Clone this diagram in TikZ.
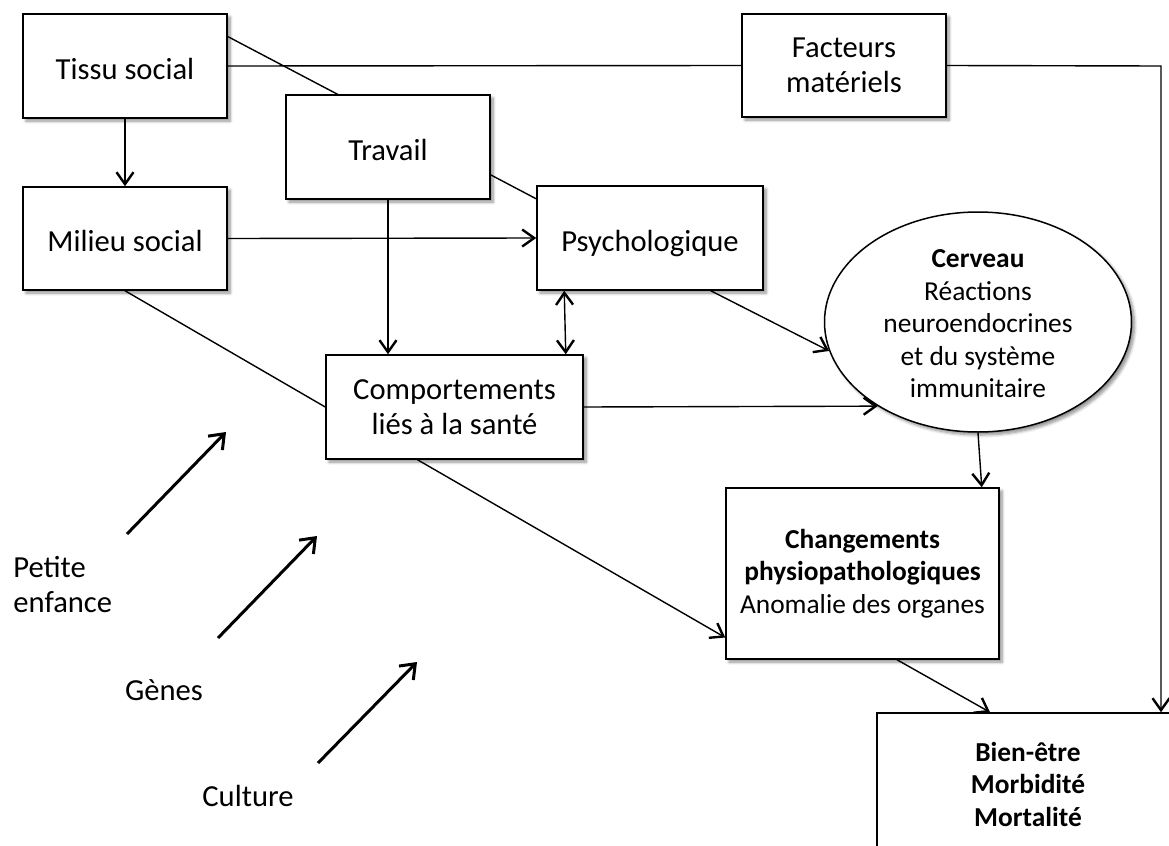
\documentclass[tikz,border=0pt]{standalone}
\usepackage{fontspec}
\setmainfont{Carlito}
\usetikzlibrary{arrows.meta,shapes.geometric,shadows.blur,calc,backgrounds}
\newcommand\mainsz{\fontsize{15.3}{17.5}\selectfont}
\newcommand\smallsz{\fontsize{13.7}{16.25}\selectfont}
\tikzset{
  shad/.style={blur shadow={shadow xshift=1.5pt, shadow yshift=-1.5pt, shadow blur radius=1.5pt, shadow opacity=45, shadow blur steps=6}},
  box/.style={draw, line width=0.75pt, fill=white, inner sep=2pt, align=center, font=\mainsz},
  one/.style={text height=13pt, text depth=0pt},
  conn/.style={line width=0.7pt},
  tip/.tip={Straight Barb[length=6pt,width=8.5pt,line width=1.2pt]},
  arr/.style={conn, -tip},
  dbl/.style={conn, tip-tip},
  bigarr/.style={line width=1.5pt, -{Straight Barb[length=6.5pt,width=10pt,line width=1.5pt]}},
  lbl/.style={font=\mainsz, inner sep=0pt},
}
\begin{document}
\begin{tikzpicture}[x=0.5pt,y=-0.5pt]
\useasboundingbox (0,0) rectangle (1169,846);
\clip (0,0) rectangle (1169,846);

% nodes
\node[box,one,shad,minimum width=102pt,minimum height=52pt] (Tissu) at (125,66) {Tissu social};
\node[box,one,shad,minimum width=102pt,minimum height=51.5pt] (Milieu) at (125,238.5) {Milieu social};
\node[box,one,shad,minimum width=102pt,minimum height=52pt] (Travail) at (388,147) {Travail};
\node[box,one,shad,minimum width=113pt,minimum height=52pt] (Psych) at (650,238) {Psychologique};
\node[box,shad,minimum width=128.5pt,minimum height=52pt] (Comport) at (454.5,407) {Comportements\\liés à la santé};
\node[box,shad,minimum width=102pt,minimum height=51.5pt] (Fact) at (844,65.5) {Facteurs\\matériels};
\node[box,shad,font=\smallsz,minimum width=136.5pt,minimum height=85.5pt] (Chg) at (862.5,573.5) {\textbf{Changements}\\\textbf{physiopathologiques}\\Anomalie des organes};
\node[box,font=\smallsz,minimum width=151pt,minimum height=71pt] (Bien) at (1028,784) {\textbf{Bien-être}\\\textbf{Morbidité}\\\textbf{Mortalité}};
\node[draw,ellipse,shad,fill=white,line width=0.75pt,inner sep=0pt,minimum width=153.5pt,minimum height=110pt] (Cerveau) at (978,322) {};
\node[align=center,font=\smallsz,inner sep=0pt] (CerveauTxt) at (978,324) {\textbf{Cerveau}\\Réactions\\neuroendocrines\\et du système\\immunitaire};

% free labels
\node[lbl,anchor=west,align=left] (Petite) at (13,585) {Petite\\enfance};
\node[lbl] (Genes) at (164,690) {Gènes};
\node[lbl] (Culture) at (248,796) {Culture};

% free arrows
\coordinate (a1s) at (127,534); \coordinate (a1e) at (226,432);
\coordinate (a2s) at (218,638); \coordinate (a2e) at (317,536);
\coordinate (a3s) at (318,763); \coordinate (a3e) at (417,662);
\draw[bigarr] (a1s) -- (a1e);
\draw[bigarr] (a2s) -- (a2e);
\draw[bigarr] (a3s) -- (a3e);

\coordinate (fcorner) at (1161,66);

\begin{scope}[on background layer]
\draw[conn] (Tissu.16) -- (Psych.161);
\draw[conn] (Tissu.east) -- (Fact.west);
\draw[arr] (Fact.east) -- (fcorner) -- (fcorner |- Bien.north);
\draw[arr] (Tissu.south) -- (Milieu.north);
\draw[arr] (Milieu.east) -- (Psych.west);
\draw[arr] (Travail.south) -- (Travail.south |- Comport.north);
\draw[dbl] ($(Psych.south west)+(28,0)$) -- ($(Comport.north east)+(-18,0)$);
\draw[conn] (Milieu.south) -- (Comport.west);
\draw[arr] ($(Psych.south east)+(-53,0)$) -- (Cerveau.191.5);
\draw[arr] (Comport.east) -- (Cerveau.220);
\draw[arr] (Cerveau.south) -- ($(Chg.north east)+(-18,0)$);
\draw[arr] ($(Comport.south)+(-37,0)$) -- (Chg.205);
\draw[arr] ($(Chg.south)+(34.5,0)$) -- ($(Bien.north)+(-38,0)$);
\end{scope}
\end{tikzpicture}
\end{document}
